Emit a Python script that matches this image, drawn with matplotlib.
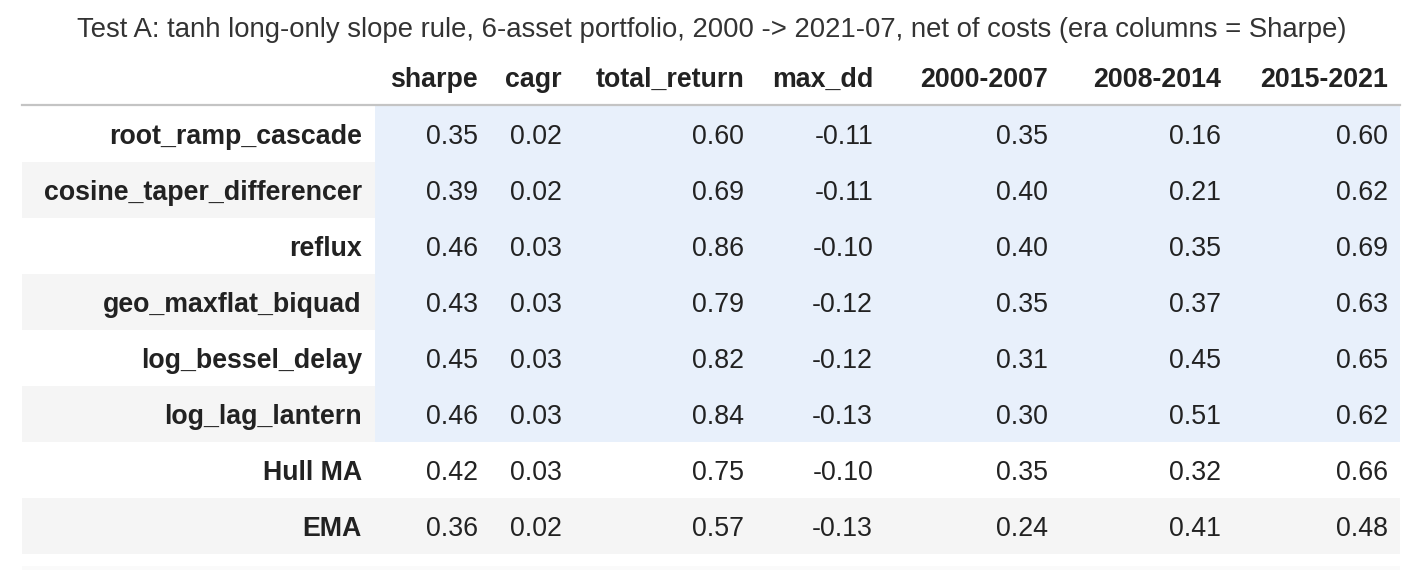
"""Styled results table: tanh long-only slope rule, Test A."""

import matplotlib

matplotlib.use("Agg")
import matplotlib.pyplot as plt
from matplotlib.patches import Rectangle

TITLE = "Test A: tanh long-only slope rule, 6-asset portfolio, 2000 -> 2021-07, net of costs (era columns = Sharpe)"
COLUMNS = ["sharpe", "cagr", "total_return", "max_dd", "2000-2007", "2008-2014", "2015-2021"]
ROW_LABELS = [
    "root_ramp_cascade",
    "cosine_taper_differencer",
    "reflux",
    "geo_maxflat_biquad",
    "log_bessel_delay",
    "log_lag_lantern",
    "Hull MA",
    "EMA",
]
SHARPE = [0.35, 0.39, 0.46, 0.43, 0.45, 0.46, 0.42, 0.36]
CAGR = [0.02, 0.02, 0.03, 0.03, 0.03, 0.03, 0.03, 0.02]
TOTAL_RETURN = [0.60, 0.69, 0.86, 0.79, 0.82, 0.84, 0.75, 0.57]
MAX_DD = [-0.11, -0.11, -0.10, -0.12, -0.12, -0.13, -0.10, -0.13]
ERA_2000_2007 = [0.35, 0.40, 0.40, 0.35, 0.31, 0.30, 0.35, 0.24]
ERA_2008_2014 = [0.16, 0.21, 0.35, 0.37, 0.45, 0.51, 0.32, 0.41]
ERA_2015_2021 = [0.60, 0.62, 0.69, 0.63, 0.65, 0.62, 0.66, 0.48]
HIGHLIGHTED = 6  # first rows are the new filters

FONT = ["Liberation Sans", "DejaVu Sans"]
TABLE_LEFT, TABLE_RIGHT = 22, 1400
INDEX_RIGHT = 375
HEADER_Y, HEADER_LINE = 80, 105
ROW_H = 56
COL_RIGHT = [478, 562, 744, 873, 1048, 1221, 1388]
BODY_SIZE = 19.3


def main() -> None:
    plt.rcParams["font.family"] = FONT
    fig = plt.figure(figsize=(14.24, 5.70), dpi=100)
    ax = fig.add_axes([0, 0, 1, 1])
    ax.set_xlim(0, 1424)
    ax.set_ylim(570, 0)
    ax.axis("off")

    values = [SHARPE, CAGR, TOTAL_RETURN, MAX_DD, ERA_2000_2007, ERA_2008_2014, ERA_2015_2021]

    ax.text(712, 30, TITLE, ha="center", va="center", fontsize=19.8, color="#333333")
    for x, name in zip(COL_RIGHT, COLUMNS):
        ax.text(x, HEADER_Y, name, ha="right", va="center", fontsize=BODY_SIZE,
                fontweight="bold", color="#222222")
    ax.plot([TABLE_LEFT, TABLE_RIGHT], [HEADER_LINE, HEADER_LINE], color="#c4c4c4", lw=1.6)

    for i, label in enumerate(ROW_LABELS):
        top = HEADER_LINE + 1 + i * ROW_H
        if i % 2 == 1:
            ax.add_patch(Rectangle((TABLE_LEFT, top), TABLE_RIGHT - TABLE_LEFT, ROW_H,
                                   color="#f5f5f5", lw=0))
        if i < HIGHLIGHTED:
            ax.add_patch(Rectangle((INDEX_RIGHT, top), TABLE_RIGHT - INDEX_RIGHT, ROW_H,
                                   color="#e8f0fb", lw=0))
        yc = top + ROW_H / 2 + 3
        ax.text(362, yc, label, ha="right", va="center", fontsize=BODY_SIZE,
                fontweight="bold", color="#222222")
        for x, col in zip(COL_RIGHT, values):
            ax.text(x, yc, f"{col[i]:.2f}", ha="right", va="center", fontsize=BODY_SIZE,
                    color="#222222")

    bottom = HEADER_LINE + 1 + len(ROW_LABELS) * ROW_H
    ax.add_patch(Rectangle((TABLE_LEFT, bottom + 12), TABLE_RIGHT - TABLE_LEFT, 4,
                           color="#fafafa", lw=0))

    fig.savefig("out.png", dpi=100, facecolor="white")
    plt.close(fig)


if __name__ == "__main__":
    main()
